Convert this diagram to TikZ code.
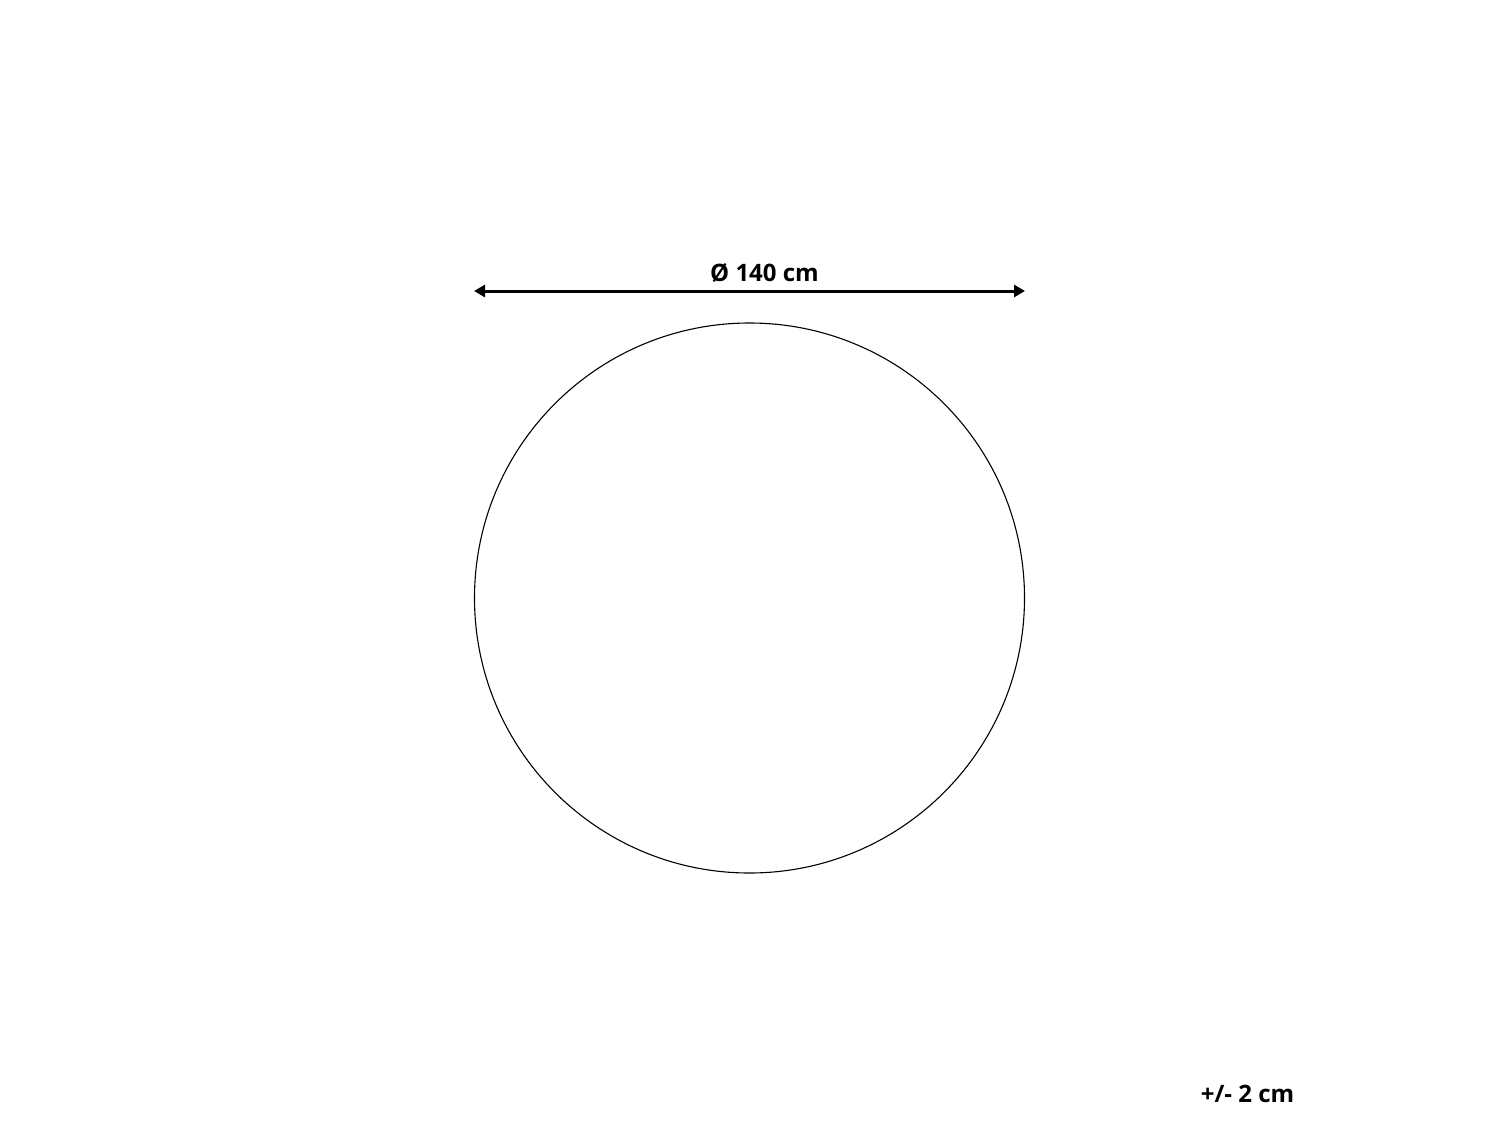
\documentclass[tikz,border=0pt]{standalone}
\usepackage{fontspec}
\setmainfont{Open Sans}
\usetikzlibrary{arrows.meta}
\begin{document}
\begin{tikzpicture}[x=1pt,y=-1pt,
  lbl/.style={font=\fontsize{24}{28}\selectfont\bfseries, inner sep=0pt, text=black},
  dim/.style={line width=3pt, {Triangle[length=11pt,width=12pt]}-{Triangle[length=11pt,width=12pt]}}]
\useasboundingbox (0,0) rectangle (1500,1125);
\node[circle, draw, line width=1.1pt, minimum size=550pt, inner sep=0pt] (rug) at (749.5,598) {};
\coordinate (l) at (474,291);
\coordinate (r) at (1025,291);
\draw[dim] (l) -- (r);
\node[lbl] (d) at (764.5,273) {Ø 140 cm};
\node[lbl] (t) at (1247.5,1094) {+/- 2 cm};
\end{tikzpicture}
\end{document}
